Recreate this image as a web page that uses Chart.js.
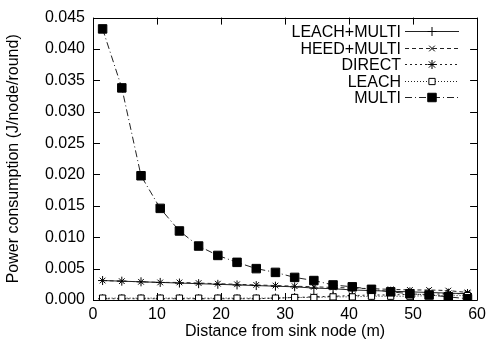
<!DOCTYPE html>
<html>
<head>
<meta charset="utf-8">
<script src="https://cdn.jsdelivr.net/npm/chart.js@4/dist/chart.umd.min.js"></script>
<style>
  html, body { margin: 0; padding: 0; background: #fff; }
  #wrap { width: 491px; height: 351px; }
</style>
</head>
<body>
<div id="wrap"><canvas id="power"></canvas></div>
<script>
// distance from sink node (m)
const distances = [1.5, 4.5, 7.5, 10.5, 13.5, 16.5, 19.5, 22.5, 25.5, 28.5,
                   31.5, 34.5, 37.5, 40.5, 43.5, 46.5, 49.5, 52.5, 55.5, 58.5];

// power consumption (J/node/round)
const leach_multi = [0.0031, 0.0030, 0.0029, 0.0028, 0.0027, 0.0026, 0.0025, 0.0024, 0.0023, 0.0022,
                     0.0021, 0.0019, 0.0018, 0.0016, 0.0015, 0.0014, 0.0013, 0.0012, 0.0011, 0.0010];
const heed_multi  = [0.0031, 0.0030, 0.0029, 0.0028, 0.0028, 0.0027, 0.0026, 0.0025, 0.0024, 0.0023,
                     0.0022, 0.0021, 0.0020, 0.0019, 0.0018, 0.0017, 0.0016, 0.0016, 0.0015, 0.0012];
const direct      = [0.0002, 0.0002, 0.0002, 0.0002, 0.0002, 0.0002, 0.0002, 0.0002, 0.0002, 0.0003,
                     0.0004, 0.0005, 0.0006, 0.0007, 0.0008, 0.0008, 0.0009, 0.0009, 0.0010, 0.0010];
const leach       = [0.0003, 0.0003, 0.0003, 0.0003, 0.0003, 0.0003, 0.0003, 0.0003, 0.0003, 0.0003,
                     0.0004, 0.0004, 0.0005, 0.0005, 0.0006, 0.0006, 0.0006, 0.0007, 0.0007, 0.0007];
const multi       = [0.0432, 0.0338, 0.0198, 0.0146, 0.0110, 0.0086, 0.0071, 0.0060, 0.0050, 0.0044,
                     0.0036, 0.0031, 0.0024, 0.0021, 0.0017, 0.0013, 0.0010, 0.0008, 0.0005, 0.0002];

const series_names = ['LEACH+MULTI', 'HEED+MULTI', 'DIRECT', 'LEACH', 'MULTI'];
const x_ticks = [0, 10, 20, 30, 40, 50, 60];
const y_ticks = [0, 0.005, 0.01, 0.015, 0.02, 0.025, 0.03, 0.035, 0.04, 0.045];

const FONT = 'Liberation Sans, Arial, Helvetica, sans-serif';
const FONT_SIZE = 16;

function make_points(values){
    return distances.map((d, i) => ({ x: d, y: values[i] }));
}

// line + marker style for each series, gnuplot look
const styles = [
    { dash: [],            point: 'cross',    radius: 4.5, fill: '#000' },
    { dash: [4, 3],        point: 'crossRot', radius: 4,   fill: '#000' },
    { dash: [2, 3],        point: 'star',     radius: 4.5, fill: '#000' },
    { dash: [1, 2],        point: 'rect',     radius: 4.4, fill: '#fff' },
    { dash: [7, 3, 1, 3],  point: 'rect',     radius: 6,   fill: '#000' }
];
const all_values = [leach_multi, heed_multi, direct, leach, multi];

const datasets = all_values.map((vals, i) => ({
    label: series_names[i],
    data: make_points(vals),
    borderColor: '#222',
    borderWidth: 1,
    borderDash: styles[i].dash,
    pointStyle: styles[i].point,
    pointRadius: styles[i].radius,
    pointBorderWidth: 1,
    pointBorderColor: '#000',
    pointBackgroundColor: styles[i].fill,
    tension: 0,
    fill: false,
    order: 5 - i
}));

// draws the plot box, inward ticks on all four sides, and the gnuplot style key
const box_and_key = {
    id: 'box_and_key',
    afterDatasetsDraw(chart){
        const ctx = chart.ctx;
        const a = chart.chartArea;
        const xs = chart.scales.x, ys = chart.scales.y;
        const tick = 7;
        ctx.save();
        ctx.strokeStyle = '#000';
        ctx.lineWidth = 1;
        ctx.setLineDash([]);
        ctx.beginPath();
        ctx.rect(Math.round(a.left) + 0.5, Math.round(a.top) + 0.5,
                 Math.round(a.right - a.left), Math.round(a.bottom - a.top));
        x_ticks.forEach(v => {
            const px = Math.round(xs.getPixelForValue(v)) + 0.5;
            ctx.moveTo(px, a.bottom); ctx.lineTo(px, a.bottom - tick);
            ctx.moveTo(px, a.top); ctx.lineTo(px, a.top + tick);
        });
        y_ticks.forEach(v => {
            const py = Math.round(ys.getPixelForValue(v)) + 0.5;
            ctx.moveTo(a.left, py); ctx.lineTo(a.left + tick, py);
            ctx.moveTo(a.right, py); ctx.lineTo(a.right - tick, py);
        });
        ctx.stroke();

        // key, top right inside the plot
        const text_right = 401, line_from = 405, line_to = 459, first_row = 31, row_h = 16.5;
        ctx.font = FONT_SIZE + 'px ' + FONT;
        ctx.fillStyle = '#000';
        ctx.textAlign = 'right';
        ctx.textBaseline = 'middle';
        chart.data.datasets.forEach((ds, i) => {
            const y = Math.round(first_row + i * row_h) + 0.5;
            ctx.fillText(ds.label, text_right, y + 1);
            ctx.strokeStyle = '#222';
            ctx.setLineDash(ds.borderDash);
            ctx.beginPath();
            ctx.moveTo(line_from, y); ctx.lineTo(line_to, y);
            ctx.stroke();
            ctx.setLineDash([]);
            ctx.strokeStyle = '#000';
            ctx.fillStyle = ds.pointBackgroundColor;
            Chart.helpers.drawPoint(ctx, {
                pointStyle: ds.pointStyle, radius: ds.pointRadius, rotation: 0, borderWidth: 1
            }, (line_from + line_to) / 2, y);
            ctx.fillStyle = '#000';
        });
        ctx.restore();
    }
};

new Chart(document.getElementById('power').getContext('2d'), {
    type: 'line',
    data: { datasets: datasets },
    options: {
        responsive: true,
        maintainAspectRatio: false,
        animation: false,
        layout: { padding: { top: 15, right: 13, left: 0, bottom: 0 } },
        plugins: {
            legend: { display: false },
            tooltip: { enabled: false }
        },
        scales: {
            x: {
                type: 'linear',
                min: 0, max: 60,
                afterBuildTicks: scale => { scale.ticks = x_ticks.map(v => ({ value: v })); },
                afterFit: scale => { scale.height = 51; },
                grid: { display: false, drawTicks: false },
                border: { display: false },
                ticks: { color: '#000', padding: 5, maxRotation: 0, font: { family: FONT, size: FONT_SIZE } },
                title: {
                    display: true, text: 'Distance from sink node (m)', color: '#000',
                    padding: { top: 0, bottom: 10 }, font: { family: FONT, size: FONT_SIZE }
                }
            },
            y: {
                type: 'linear',
                min: 0, max: 0.045,
                afterBuildTicks: scale => { scale.ticks = y_ticks.map(v => ({ value: v })); },
                afterFit: scale => { scale.width = 93; },
                grid: { display: false, drawTicks: false },
                border: { display: false },
                ticks: {
                    color: '#000', padding: 8, font: { family: FONT, size: FONT_SIZE },
                    callback: v => v.toFixed(3)
                },
                title: {
                    display: true, text: 'Power consumption (J/node/round)', color: '#000',
                    padding: { top: 4, bottom: 0 }, font: { family: FONT, size: FONT_SIZE }
                }
            }
        }
    },
    plugins: [box_and_key]
});
</script>
</body>
</html>
